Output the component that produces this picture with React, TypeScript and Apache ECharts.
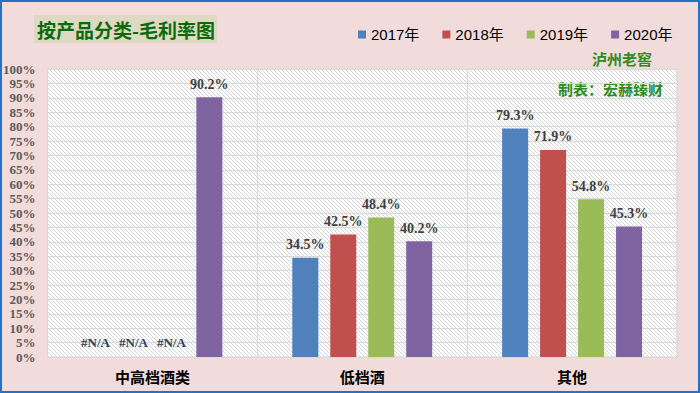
import React, { useEffect, useRef } from "react";
import * as echarts from "echarts";

const categories = ["中高档酒类", "低档酒", "其他"];
const seriesNames = ["2017年", "2018年", "2019年", "2020年"];
const v2017: (number | null)[] = [null, 34.5, 79.3];
const v2018: (number | null)[] = [null, 42.5, 71.9];
const v2019: (number | null)[] = [null, 48.4, 54.8];
const v2020: (number | null)[] = [90.2, 40.2, 45.3];
const colors = ["#4F81BD", "#C0504D", "#9BBB59", "#8064A2"];

function makeHatch(): string {
  const c = document.createElement("canvas");
  c.width = 4;
  c.height = 4;
  const ctx = c.getContext("2d")!;
  ctx.fillStyle = "#ffffff";
  ctx.fillRect(0, 0, 4, 4);
  ctx.fillStyle = "#d4d4d4";
  for (let i = 0; i < 4; i++) ctx.fillRect(i, i, 1, 1);
  return c.toDataURL();
}

export default function App() {
  const ref = useRef<HTMLDivElement>(null);
  useEffect(() => {
    document.body.style.margin = "0";
    const chart = echarts.init(ref.current!, null, { renderer: "svg" });
    const all = [v2017, v2018, v2019, v2020];
    const serif = "'Liberation Serif', 'Noto Sans CJK SC', serif";
    const series = all.map((vals, i) => ({
      name: seriesNames[i],
      type: "bar",
      barWidth: 26,
      barGap: "46%",
      itemStyle: { color: colors[i] },
      data: vals.map((v) =>
        v === null
          ? {
              value: 0,
              label: {
                show: true,
                position: "insideBottom",
                offset: [0, -2],
                formatter: "#N/A",
                color: "#2F3F5A",
                fontSize: 13,
                fontWeight: "bold",
                fontFamily: serif,
              },
            }
          : v
      ),
      label: {
        show: true,
        position: "top",
        distance: 6,
        formatter: (p: any) => p.value.toFixed(1) + "%",
        color: "#404040",
        fontSize: 14,
        fontWeight: "bold",
        fontFamily: serif,
      },
    }));
    chart.setOption({
      animation: false,
      backgroundColor: "#F2DCDB",
      color: colors,
      grid: {
        left: 44,
        right: 23,
        top: 69,
        bottom: 36,
        show: true,
        borderColor: "#D9D9D9",
        borderWidth: 1,
        backgroundColor: {
          image: makeHatch(),
          repeat: "repeat",
          imageWidth: 4,
          imageHeight: 4,
        },
      },
      legend: {
        data: seriesNames,
        left: 353,
        top: 22,
        icon: "rect",
        itemWidth: 8,
        itemHeight: 8,
        itemGap: 23,
        textStyle: {
          fontSize: 15,
          color: "#000",
          fontFamily: "'Liberation Sans', 'Noto Sans CJK SC', sans-serif",
        },
      },
      xAxis: {
        type: "category",
        data: categories,
        axisLine: { show: true, lineStyle: { color: "#D9D9D9" } },
        axisTick: { show: false },
        splitLine: { show: true, lineStyle: { color: "#D9D9D9" } },
        axisLabel: {
          margin: 12,
          fontSize: 15,
          fontWeight: "bold",
          color: "#000",
          fontFamily: "'Noto Sans CJK SC', sans-serif",
        },
      },
      yAxis: {
        type: "value",
        min: 0,
        max: 100,
        interval: 5,
        axisLine: { show: false },
        axisTick: { show: false },
        splitLine: { lineStyle: { color: "#D9D9D9" } },
        axisLabel: {
          formatter: "{value}%",
          margin: 12,
          fontSize: 13,
          fontWeight: "bold",
          color: "#595959",
          fontFamily: serif,
        },
      },
      series,
      graphic: [
        {
          type: "rect",
          shape: { x: 1, y: 1, width: 698, height: 391 },
          style: { fill: "none", stroke: "#2172C8", lineWidth: 2 },
          silent: true,
        },
        {
          type: "rect",
          shape: { x: 34, y: 15, width: 183, height: 28 },
          style: { fill: "#DDD9C3" },
        },
        {
          type: "text",
          x: 37,
          y: 29,
          style: {
            text: "按产品分类-毛利率图",
            fill: "#0B6B0B",
            font: "bold 19px 'Noto Sans CJK SC', sans-serif",
            textVerticalAlign: "middle",
            textShadowColor: "rgba(200,180,0,0.6)",
            textShadowOffsetX: 1,
            textShadowOffsetY: 1,
          },
        },
        {
          type: "text",
          x: 592,
          y: 58,
          style: {
            text: "泸州老窖",
            fill: "#2E8B1E",
            font: "bold 15px 'Noto Sans CJK SC', sans-serif",
            textVerticalAlign: "middle",
            textShadowColor: "rgba(200,180,0,0.6)",
            textShadowOffsetX: 1,
            textShadowOffsetY: 1,
          },
        },
        {
          type: "text",
          x: 558,
          y: 88,
          style: {
            text: "制表：宏赫臻财",
            fill: "#2E8B1E",
            font: "bold 15px 'Noto Sans CJK SC', sans-serif",
            textVerticalAlign: "middle",
            textShadowColor: "rgba(200,180,0,0.6)",
            textShadowOffsetX: 1,
            textShadowOffsetY: 1,
          },
        },
      ],
    });
    return () => chart.dispose();
  }, []);
  return <div ref={ref} style={{ width: 700, height: 393 }} />;
}
